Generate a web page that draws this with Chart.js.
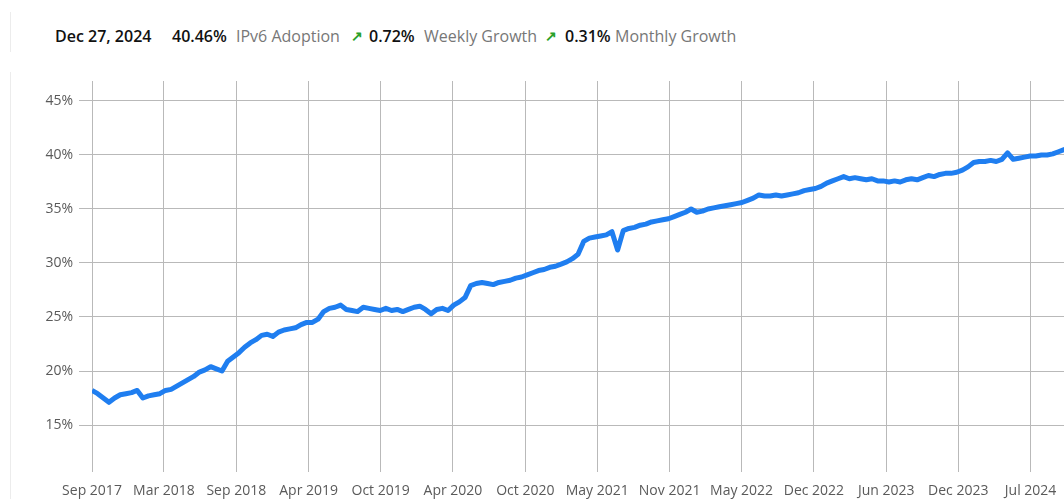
<!DOCTYPE html>
<html>
<head>
<meta charset="utf-8">
<script src="https://cdn.jsdelivr.net/npm/chart.js@4"></script>
<style>
  html, body { margin: 0; padding: 0; background: #fff; overflow: hidden; }
  body { width: 1064px; height: 499px; position: relative; font-family: 'Open Sans', sans-serif; }
  .edge { position: absolute; left: 10px; width: 0; border-left: 1px solid #ececec; }
  .head { position: absolute; top: 24px; font-size: 16px; line-height: 24px; white-space: nowrap; }
  .head span { position: absolute; top: 0; }
  .b { color: #111; font-weight: 600; }
  .g { color: #777; }
  .up { color: #2aa12a; font-weight: 700; font-size: 14px; }
  #wrap { position: absolute; left: 0; top: 0; width: 1104px; height: 499px; }
</style>
</head>
<body>
<div class="edge" style="top:12px;height:40px"></div>
<div class="edge" style="top:72px;height:427px"></div>
<div class="head">
  <span class="b" style="left:55px">Dec 27, 2024</span>
  <span class="b" style="left:172px">40.46%</span>
  <span class="g" style="left:236px">IPv6 Adoption</span>
  <span class="up" style="left:351px">&#8599;</span>
  <span class="b" style="left:369px">0.72%</span>
  <span class="g" style="left:424px">Weekly Growth</span>
  <span class="up" style="left:545px">&#8599;</span>
  <span class="b" style="left:565px">0.31%</span>
  <span class="g" style="left:615px">Monthly Growth</span>
</div>
<div id="wrap"><canvas id="lineChart" width="1104" height="499"></canvas></div>
<script>
    // one reading every 15 days, starting at startDate
    const startDate = '2017-09-05';
    const endDate = '2024-12-27';
    const stepDays = 15;

    const adoption = [
        18.2, 17.9, 17.5, 17.1, 17.5, 17.8, 17.9, 18.0, 18.2, 17.5,
        17.7, 17.8, 17.9, 18.2, 18.3, 18.6, 18.9, 19.2, 19.5, 19.9,
        20.1, 20.4, 20.2, 20.0, 20.9, 21.3, 21.7, 22.2, 22.6, 22.9,
        23.3, 23.4, 23.2, 23.6, 23.8, 23.9, 24.0, 24.3, 24.5, 24.5,
        24.8, 25.5, 25.8, 25.9, 26.1, 25.7, 25.6, 25.5, 25.9, 25.8,
        25.7, 25.6, 25.8, 25.6, 25.7, 25.5, 25.7, 25.9, 26.0, 25.7,
        25.3, 25.7, 25.8, 25.6, 26.1, 26.4, 26.8, 27.9, 28.1, 28.2,
        28.1, 28.0, 28.2, 28.3, 28.4, 28.6, 28.7, 28.9, 29.1, 29.3,
        29.4, 29.6, 29.7, 29.9, 30.1, 30.4, 30.8, 32.0, 32.3, 32.4,
        32.5, 32.6, 32.9, 31.2, 33.0, 33.2, 33.3, 33.5, 33.6, 33.8,
        33.9, 34.0, 34.1, 34.3, 34.5, 34.7, 35.0, 34.7, 34.8, 35.0,
        35.1, 35.2, 35.3, 35.4, 35.5, 35.6, 35.8, 36.0, 36.3, 36.2,
        36.2, 36.3, 36.2, 36.3, 36.4, 36.5, 36.7, 36.8, 36.9, 37.1,
        37.4, 37.6, 37.8, 38.0, 37.8, 37.9, 37.8, 37.7, 37.8, 37.6,
        37.6, 37.5, 37.6, 37.5, 37.7, 37.8, 37.7, 37.9, 38.1, 38.0,
        38.2, 38.3, 38.3, 38.4, 38.6, 38.9, 39.3, 39.4, 39.4, 39.5,
        39.4, 39.6, 40.2, 39.6, 39.7, 39.8, 39.9, 39.9, 40.0, 40.0,
        40.1, 40.3, 40.5, 40.4, 40.5, 40.4, 40.6, 40.5, 40.46
    ];

    const tickDates = ['2017-09-05', '2018-03-15', '2018-09-23', '2019-04-03', '2019-10-11', '2020-04-20', '2020-10-29',
        '2021-05-08', '2021-11-16', '2022-05-26', '2022-12-04', '2023-06-14', '2023-12-22', '2024-07-01'];
    const tickLabels = ['Sep 2017', 'Mar 2018', 'Sep 2018', 'Apr 2019', 'Oct 2019', 'Apr 2020', 'Oct 2020',
        'May 2021', 'Nov 2021', 'May 2022', 'Dec 2022', 'Jun 2023', 'Dec 2023', 'Jul 2024'];
    const yTicks = [15, 20, 25, 30, 35, 40, 45];

    const DAY = 86400000;
    const t0 = Date.parse(startDate);
    const points = adoption.map((v, i) => ({ x: t0 + i * stepDays * DAY, y: v }));
    const tickTimes = tickDates.map(d => Date.parse(d));

    Chart.defaults.font.family = "'Open Sans', sans-serif";
    Chart.defaults.font.size = 14;
    Chart.defaults.color = '#5a5a5a';

    const ctx = document.getElementById('lineChart');
    let lineChart = new Chart(ctx, {
        type: 'line',
        data: {
            datasets: [{
                label: 'IPv6 Adoption',
                data: points,
                borderColor: '#1f7ef0',
                borderWidth: 5,
                pointRadius: 0,
                tension: 0,
                borderJoinStyle: 'round'
            }]
        },
        options: {
            responsive: false,
            animation: false,
            devicePixelRatio: 1,
            layout: { padding: { top: 81, right: 6, bottom: 0, left: 0 } },
            plugins: { legend: { display: false }, tooltip: { enabled: false } },
            scales: {
                x: {
                    type: 'linear',
                    min: t0,
                    max: Date.parse(endDate),
                    afterBuildTicks: (scale) => { scale.ticks = tickTimes.map(v => ({ value: v })); },
                    afterFit: (scale) => { scale.height = 35; },
                    grid: { color: '#b9b9b9', tickLength: 8 },
                    border: { display: false },
                    ticks: {
                        autoSkip: false,
                        maxRotation: 0,
                        padding: 11,
                        callback: (v) => tickLabels[tickTimes.indexOf(v)]
                    }
                },
                y: {
                    min: 11.39,
                    max: 46.85,
                    afterBuildTicks: (scale) => { scale.ticks = yTicks.map(v => ({ value: v })); },
                    afterFit: (scale) => { scale.width = 92; },
                    grid: { color: '#b9b9b9', tickLength: 13 },
                    border: { display: false },
                    ticks: { padding: 6, callback: (v) => v + '%' }
                }
            }
        }
    });
</script>
</body>
</html>
